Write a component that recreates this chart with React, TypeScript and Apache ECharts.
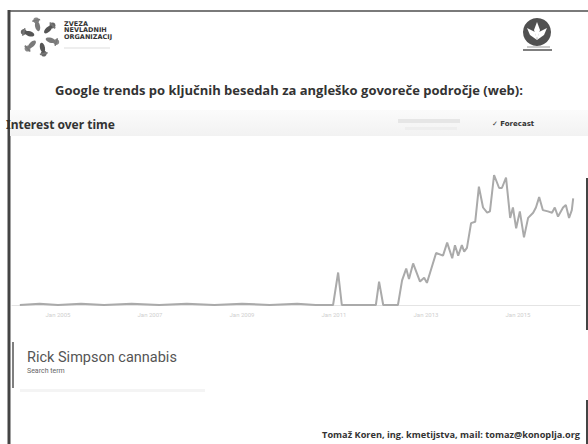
import React, { useEffect, useRef } from "react";
import * as echarts from "echarts";

const titleText = "Google trends po ključnih besedah za angleško govoreče področje (web):";
const headerText = "Interest over time";
const legendTerm = "Rick Simpson cannabis";
const legendSub = "Search term";
const footerText = "Tomaž Koren, ing. kmetijstva, mail: tomaz@konoplja.org";
const orgLines = ["ZVEZA", "NEVLADNIH", "ORGANIZACIJ"];

const tickYears = [2005, 2007, 2009, 2011, 2013, 2015];
const tickLabels = ["Jan 2005", "Jan 2007", "Jan 2009", "Jan 2011", "Jan 2013", "Jan 2015"];

// decimal year of each sample
const years = [
  2004.17, 2004.6, 2005.0, 2005.5, 2006.0, 2006.6, 2007.2, 2007.8, 2008.4, 2009.0, 2009.6, 2010.2, 2010.6, 2010.98,
  2011.09, 2011.17, 2011.5, 2011.91, 2011.98, 2012.07, 2012.39,
  2012.48, 2012.57, 2012.63, 2012.72, 2012.87, 2012.96, 2013.02, 2013.09, 2013.22, 2013.37,
  2013.46, 2013.57, 2013.63, 2013.70, 2013.78, 2013.83, 2013.89, 2013.98, 2014.07, 2014.15,
  2014.24, 2014.33, 2014.39, 2014.48, 2014.59, 2014.65, 2014.74, 2014.83, 2014.89, 2014.96,
  2015.04, 2015.13, 2015.22, 2015.33, 2015.39, 2015.46, 2015.54, 2015.65, 2015.74, 2015.80,
  2015.87, 2015.98, 2016.04, 2016.11, 2016.17, 2016.20,
];
const interest = [
  0, 1, 0, 1, 0, 1, 0, 1, 0, 1, 0, 1, 0, 0,
  25, 0, 0, 0, 18, 0, 0,
  19, 28, 20, 32, 18, 21, 17, 25, 40, 38,
  48, 36, 46, 38, 46, 41, 44, 63, 64, 91,
  75, 71, 72, 100, 90, 90, 98, 67, 75, 59,
  72, 52, 67, 71, 75, 83, 73, 72, 71, 75,
  68, 75, 77, 67, 73, 82,
];

export default function App() {
  const ref = useRef<HTMLDivElement>(null);
  useEffect(() => {
    if (!ref.current) return;
    const chart = echarts.init(ref.current, null, { renderer: "svg" });
    const figures: any[] = [];
    const cx = 40, cy = 37;
    for (let i = 0; i < 6; i++) {
      const a = (i * Math.PI) / 3 + 0.3;
      const r = 11;
      figures.push({
        type: "circle",
        shape: { cx: cx + Math.cos(a) * (r + 6), cy: cy + Math.sin(a) * (r + 6), r: 3 },
        style: { fill: i % 2 ? "#666" : "#888" },
      });
      figures.push({
        type: "ellipse",
        shape: { cx: 0, cy: 0, rx: 5, ry: 2.5 },
        x: cx + Math.cos(a) * r,
        y: cy + Math.sin(a) * r,
        rotation: -a,
        style: { fill: i % 2 ? "#555" : "#7a7a7a" },
      });
      figures.push({
        type: "line",
        shape: {
          x1: cx + Math.cos(a) * (r + 6) - Math.sin(a) * 4,
          y1: cy + Math.sin(a) * (r + 6) + Math.cos(a) * 4,
          x2: cx + Math.cos(a) * (r + 6) + Math.sin(a) * 4,
          y2: cy + Math.sin(a) * (r + 6) - Math.cos(a) * 4,
        },
        style: { stroke: "#777", lineWidth: 1.5 },
      });
    }
    chart.setOption({
      animation: false,
      backgroundColor: "#ffffff",
      grid: { left: 12, width: 568, top: 175, bottom: 139 },
      xAxis: {
        type: "value",
        min: 2004,
        max: 2016.348,
        splitLine: { show: false },
        axisLine: { show: true, lineStyle: { color: "#e4e4e4", width: 1 } },
        axisTick: { show: false },
        axisLabel: {
          customValues: tickYears,
          formatter: (v: number) => tickLabels[tickYears.indexOf(Math.round(v))] || "",
          color: "#cfcfcf",
          fontSize: 6,
          margin: 6,
          fontFamily: "Roboto",
        },
      },
      yAxis: { type: "value", min: 0, max: 100, show: false },
      series: [
        {
          type: "line",
          data: years.map((y, i) => [y, interest[i]]),
          showSymbol: false,
          lineStyle: { color: "#aaaaaa", width: 2 },
        },
      ],
      graphic: [
        // slide borders
        { type: "line", shape: { x1: 9, y1: 11, x2: 588, y2: 11 }, style: { stroke: "#7a7a7a", lineWidth: 2 } },
        { type: "line", shape: { x1: 9, y1: 10, x2: 9, y2: 444 }, style: { stroke: "#444", lineWidth: 3 } },
        { type: "line", shape: { x1: 587, y1: 178, x2: 587, y2: 330 }, style: { stroke: "#444", lineWidth: 2 } },
        { type: "line", shape: { x1: 587, y1: 400, x2: 587, y2: 444 }, style: { stroke: "#444", lineWidth: 2 } },
        // header band
        {
          type: "rect",
          shape: { x: 10, y: 110, width: 578, height: 26 },
          style: {
            fill: new echarts.graphic.LinearGradient(0, 0, 0, 1, [
              { offset: 0, color: "#fbfbfb" },
              { offset: 1, color: "#f2f2f2" },
            ]),
          },
        },
        // left logo
        { type: "group", children: figures },
        ...orgLines.map((t, i) => ({
          type: "text",
          x: 64,
          y: 20 + i * 6.5,
          style: { text: t, fill: "#333", font: "bold 6.5px 'DejaVu Sans'" },
        })),
        { type: "line", shape: { x1: 64, y1: 48, x2: 110, y2: 48 }, style: { stroke: "#eee", lineWidth: 2 } },
        // right logo
        { type: "circle", shape: { cx: 537, cy: 32, r: 14 }, style: { fill: "#505050" } },
        { type: "polygon", shape: { points: [[537, 22], [540, 30], [537, 40], [534, 30]] }, style: { fill: "#fff" } },
        { type: "polygon", shape: { points: [[527, 28], [535, 32], [537, 40], [530, 35]] }, style: { fill: "#fff" } },
        { type: "polygon", shape: { points: [[547, 28], [539, 32], [537, 40], [544, 35]] }, style: { fill: "#fff" } },
        { type: "line", shape: { x1: 523, y1: 50, x2: 552, y2: 50 }, style: { stroke: "#555", lineWidth: 1.5 } },
        { type: "line", shape: { x1: 527, y1: 47, x2: 550, y2: 47 }, style: { stroke: "#999", lineWidth: 1 } },
        // title
        {
          type: "text",
          x: 289,
          y: 90,
          style: {
            text: titleText,
            fill: "#333",
            font: "bold 13px 'Open Sans'",
            align: "center",
            verticalAlign: "middle",
          },
        },
        // header text
        {
          type: "text",
          x: 6,
          y: 124,
          style: { text: headerText, fill: "#333", font: "bold 12px 'Noto Sans'", verticalAlign: "middle" },
        },
        { type: "rect", shape: { x: 398, y: 119, width: 62, height: 4 }, style: { fill: "#e6e6e6" } },
        { type: "rect", shape: { x: 405, y: 127, width: 52, height: 3 }, style: { fill: "#eeeeee" } },
        {
          type: "text",
          x: 492,
          y: 124,
          style: { text: "✓ Forecast", fill: "#333", font: "bold 7px 'DejaVu Sans'", verticalAlign: "middle" },
        },
        // legend
        { type: "line", shape: { x1: 13, y1: 342, x2: 13, y2: 388 }, style: { stroke: "#555", lineWidth: 1.5 } },
        {
          type: "text",
          x: 27,
          y: 357,
          style: { text: legendTerm, fill: "#555", font: "14.5px Roboto", verticalAlign: "middle" },
        },
        {
          type: "text",
          x: 27,
          y: 371,
          style: { text: legendSub, fill: "#666", font: "7px Roboto", verticalAlign: "middle" },
        },
        { type: "rect", shape: { x: 20, y: 389, width: 185, height: 3 }, style: { fill: "#f4f4f4" } },
        // footer
        {
          type: "text",
          x: 580,
          y: 434,
          style: {
            text: footerText,
            fill: "#333",
            font: "bold 9.2px 'Open Sans'",
            align: "right",
            verticalAlign: "middle",
          },
        },
      ],
    });
    return () => chart.dispose();
  }, []);
  return <div ref={ref} style={{ position: "fixed", left: 0, top: 0, width: 588, height: 444 }} />;
}
